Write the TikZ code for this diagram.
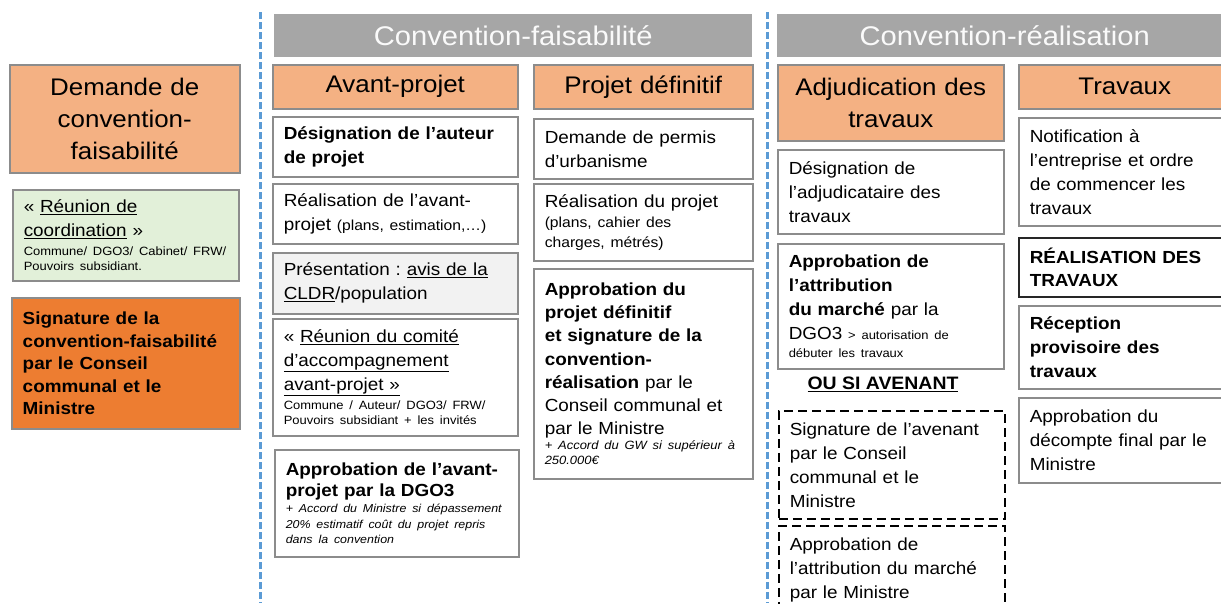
\documentclass[tikz,border=0pt]{standalone}
\usepackage{fontspec}
\setmainfont{Liberation Sans}[FakeStretch=1.08]
\frenchspacing
\definecolor{saumon}{HTML}{F4B183}
\definecolor{orangefonce}{HTML}{ED7D31}
\definecolor{vertpale}{HTML}{E2F0D9}
\definecolor{grisbandeau}{HTML}{A6A6A6}
\definecolor{grispale}{HTML}{F2F2F2}
\definecolor{bleusep}{HTML}{5B9BD5}
\definecolor{bord}{HTML}{8C8C8C}
\newcommand{\petit}{\fontsize{12}{15}\selectfont}
\newcommand{\moyen}{\fontsize{14.5}{20}\selectfont}

\begin{document}
\begin{tikzpicture}[x=1pt, y=-1pt,
        boite/.style n args={2}{draw=bord, line width=1.5pt, fill=white,
            anchor=north west, align=left, inner xsep=11pt, inner ysep=0pt,
            text width=#1pt-22pt, minimum height=#2pt,
            font=\fontsize{17.5}{24}\selectfont},
        entete/.style n args={2}{boite={#1}{#2}, fill=saumon, align=center,
            font=\fontsize{24}{32}\selectfont},
        bandeau/.style n args={2}{fill=grisbandeau, text=white!96!gray,
            anchor=north west, inner sep=0pt,
            minimum width=#1pt, minimum height=#2pt,
            font=\fontsize{27}{32}\selectfont},
        tirets/.style={draw=black, dash pattern=on 9pt off 5pt},
        separation/.style={draw=bleusep, line width=3pt,
            dash pattern=on 7pt off 3pt}]
    \useasboundingbox (0,0) rectangle (1221,603);

    % demande
    \node[entete={230}{108}] (dem) at (9,64) {Demande de\\convention-\\faisabilité};
    \node[boite={226}{91}, fill=vertpale] (reu) at (12,189)
        {« \underline{Réunion de}\\\underline{coordination} »\par
         {\petit\vspace{4pt}Commune/ DGO3/ Cabinet/ FRW/\\Pouvoirs subsidiant.\par}};
    \node[boite={228}{131}, fill=orangefonce,
        font=\bfseries\fontsize{17.5}{22.5}\selectfont] (sig) at (11,297)
        {Signature de la\\convention-faisabilité\\par le Conseil\\communal et le\\Ministre};

    \draw[separation] (260,12) -- (260,603);
    \draw[separation] (767,12) -- (767,603);

    \node[bandeau={478}{43}] (cf) at (274,14) {Convention-faisabilité};
    \node[bandeau={455}{43}] (cr) at (777,14) {Convention-réalisation};

    % avant-projet
    \node[entete={245}{44}] (avp) at (272,64) {Avant-projet};
    \node[boite={245}{60}, font=\bfseries\fontsize{17.5}{24}\selectfont] (des) at (272,116)
        {Désignation de l’auteur\\de projet};
    \node[boite={245}{60}] (rea) at (272,183)
        {Réalisation de l’avant-\\projet {\moyen (plans, estimation,…)}};
    \node[boite={245}{61}, fill=grispale] (pre) at (272,252)
        {Présentation : \underline{avis de la}\\\underline{CLDR}/population};
    \node[boite={245}{117}] (com) at (272,318)
        {« \underline{Réunion du comité}\\\underline{d’accompagnement}\\\underline{avant-projet »}\par
         {\petit\vspace{4pt}Commune / Auteur/ DGO3/ FRW/\\Pouvoirs subsidiant + les invités\par}};
    \node[boite={244}{107}] (apv) at (274,449)
        {{\bfseries\fontsize{17.5}{21}\selectfont Approbation de l’avant-\\projet par la DGO3\par}
         {\fontsize{11.5}{15.5}\selectfont\itshape\vspace{1pt}+ Accord du Ministre si dépassement\\20\% estimatif coût du projet repris\\dans la convention\par}};

    % projet definitif
    \node[entete={219}{44}] (pdf) at (533,64) {Projet définitif};
    \node[boite={219}{60}] (per) at (533,118) {Demande de permis\\d’urbanisme};
    \node[boite={219}{77}] (rep) at (533,183)
        {Réalisation du projet\par{\moyen (plans, cahier des\\charges, métrés)\par}};
    \node[boite={219}{210}, font=\fontsize{17.5}{23.3}\selectfont] (apd) at (533,268)
        {{\bfseries Approbation du\\projet définitif\\et signature de la\\convention-\\réalisation} par le\\Conseil communal et\\par le Ministre\par
         {\petit\itshape + Accord du GW si supérieur à\\250.000€\par}};

    % adjudication
    \node[entete={226}{76}] (adj) at (777,64) {Adjudication des\\travaux};
    \node[boite={226}{84}] (dad) at (777,149) {Désignation de\\l’adjudicataire des\\travaux};
    \node[boite={226}{125}] (aam) at (777,243)
        {{\bfseries Approbation de\\l’attribution\\du marché} par la\\DGO3 {\petit > autorisation de}\par
         {\petit\vspace{3pt}débuter les travaux\par}};
    \node[font=\bfseries\fontsize{18}{22}\selectfont] (ou) at (883,384) {\underline{OU SI AVENANT}};
    \node[boite={226}{108}, tirets] (av1) at (778,410)
        {Signature de l’avenant\\par le Conseil\\communal et le\\Ministre};
    \node[boite={226}{88}, tirets] (av2) at (778,525)
        {Approbation de\\l’attribution du marché\\par le Ministre};

    % travaux
    \node[entete={212}{44}] (trv) at (1018,64) {Travaux};
    \node[boite={212}{108}] (notif) at (1018,117)
        {Notification à\\l’entreprise et ordre\\de commencer les\\travaux};
    \node[boite={212}{59}, draw=black!85, font=\bfseries\fontsize{17.5}{23}\selectfont] (rdt) at (1018,237)
        {RÉALISATION DES\\TRAVAUX};
    \node[boite={212}{83}, font=\bfseries\fontsize{17.5}{24}\selectfont] (rec) at (1018,305)
        {Réception\\provisoire des\\travaux};
    \node[boite={212}{85}] (dfm) at (1018,397)
        {Approbation du\\décompte final par le\\Ministre};
\end{tikzpicture}
\end{document}
